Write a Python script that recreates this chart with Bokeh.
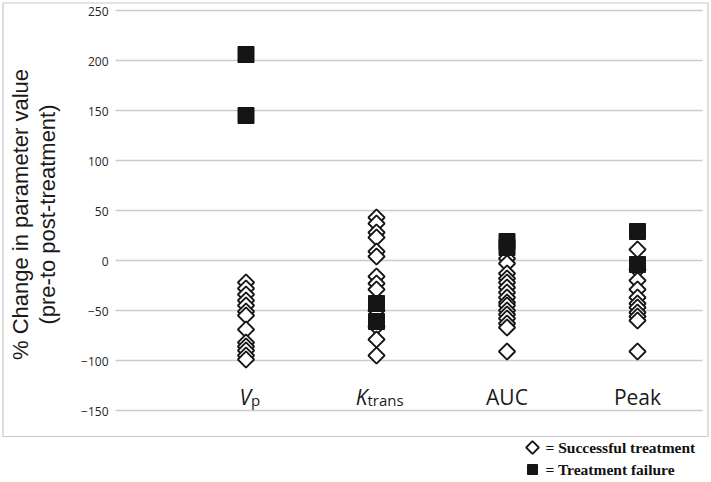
import numpy as np
from bokeh.plotting import figure
from bokeh.models import ColumnDataSource, Range1d
from bokeh.core.properties import value
from bokeh.embed import file_html
from bokeh.resources import INLINE

# ---------------- data ----------------
categories = ["Vp", "Ktrans", "AUC", "Peak"]
cat_main = ["V", "K", "AUC", "Peak"]
cat_sub = ["p", "trans", "", ""]

vp_success = [-22, -28, -34, -40, -45, -51, -55, -69, -82, -86, -90, -95, -99]
vp_failure = [206, 145]
ktrans_success = [43, 37, 28, 23, 9, 4, -16, -23, -29, -50, -66, -79, -95]
ktrans_failure = [-43, -61]
auc_success = [2, -3, -13, -18, -22, -27, -32, -37, -42, -45, -50, -54, -58, -63, -67, -91]
auc_failure = [19, 13]
peak_success = [11, -9, -20, -29, -37, -43, -47, -52, -56, -60, -91]
peak_failure = [29, -4]

y_ticks = [-150, -100, -50, 0, 50, 100, 150, 200, 250]
y_title = ["% Change in parameter value", "(pre-to post-treatment)"]
legend_labels = ["= Successful treatment", "= Treatment failure"]

# ---------------- layout helpers (pixel -> data) ----------------
W, H = 711, 482
X0_PX, DX_PX = 245.5, 130.5   # pixel column of first category, spacing between categories
Y0_PX = 260                   # pixel row of value 0 (1 px per unit)

def xpx(px):
    return 1 + (px - X0_PX) / DX_PX

def ypx(py):
    return Y0_PX - py

p = figure(width=W, height=H,
           x_range=Range1d(xpx(0), xpx(W)), y_range=Range1d(ypx(H), ypx(0)),
           output_backend="svg", toolbar_location=None,
           x_axis_location=None, y_axis_location=None,
           min_border=0, outline_line_color=None,
           background_fill_color="white", border_fill_color="white")
p.xgrid.visible = False
p.ygrid.visible = False

# outer light frame
p.quad(left=[xpx(2.5)], right=[xpx(707.5)], top=[ypx(2.5)], bottom=[ypx(436)],
       fill_color=None, line_color="#c8c8c8", line_width=1.2)

# horizontal grid lines
grid_left, grid_right = xpx(115), xpx(702)
p.segment(x0=[grid_left] * len(y_ticks), x1=[grid_right] * len(y_ticks),
          y0=y_ticks, y1=y_ticks, line_color="#cccccc", line_width=1.5)

# y tick labels
tick_text = [("\u2212" + str(-t)) if t < 0 else str(t) for t in y_ticks]
p.text(x=[grid_left] * len(y_ticks), y=y_ticks, text=tick_text,
       x_offset=-7, y_offset=1, text_align="right", text_baseline="middle",
       text_font=value("Open Sans"), text_font_size="12px", text_color="#262626")

# y title (two lines, rotated)
p.text(x=[xpx(20), xpx(47)], y=[46, 46], text=y_title, angle=np.pi / 2,
       text_align="center", text_baseline="middle",
       text_font=value("Liberation Sans"), text_font_size="22px", text_color="#1a1a1a")

# points
def collect(lists):
    xs, ys = [], []
    for i, vals in enumerate(lists):
        xs += [i + 1] * len(vals)
        ys += list(vals)
    return ColumnDataSource(dict(x=xs, y=ys))

succ_src = collect([vp_success, ktrans_success, auc_success, peak_success])
fail_src = collect([vp_failure, ktrans_failure, auc_failure, peak_failure])

succ_style = dict(marker="square", angle=np.pi / 4, fill_color="white",
                  line_color="#151515", line_width=1.8)
fail_style = dict(marker="square", fill_color="#151515", line_color="#151515", line_width=1)

p.scatter("x", "y", source=succ_src, size=11.5, **succ_style)
p.scatter("x", "y", source=fail_src, size=16, **fail_style)

# category labels
cat_x = [i + 1 for i in range(len(categories))]
plain = [i for i in range(len(categories)) if cat_sub[i] == ""]
subbed = [i for i in range(len(categories)) if cat_sub[i] != ""]
label_y = -136
sub_offsets = {0: 5, 1: -9}

p.text(x=[cat_x[i] for i in plain], y=[label_y] * len(plain), text=[cat_main[i] for i in plain],
       text_align="center", text_baseline="alphabetic",
       text_font=value("Open Sans"), text_font_size="21px", text_color="#1a1a1a")
sub_src = ColumnDataSource(dict(
    x=[cat_x[i] for i in subbed], y=[label_y] * len(subbed),
    main=[cat_main[i] for i in subbed], sub=[cat_sub[i] for i in subbed],
    off=[sub_offsets[i] for i in subbed]))
p.text(x="x", y="y", text="main", x_offset="off", source=sub_src,
       text_align="right", text_baseline="alphabetic", text_font_style="italic",
       text_font=value("Open Sans"), text_font_size="21px", text_color="#1a1a1a")
p.text(x="x", y="y", text="sub", x_offset="off", y_offset=3, source=sub_src,
       text_align="left", text_baseline="alphabetic",
       text_font=value("Open Sans"), text_font_size="15px", text_color="#1a1a1a")

# key below the frame
key_rows = [ypx(447), ypx(469)]
key_marker_x = xpx(532)
key_text_x = xpx(545)
p.scatter([key_marker_x], [key_rows[0]], size=9, **succ_style)
p.scatter([key_marker_x], [key_rows[1]], size=10, **fail_style)
p.text(x=[key_text_x] * 2, y=key_rows, text=legend_labels,
       text_align="left", text_baseline="middle",
       text_font=value("Liberation Serif"), text_font_style="bold",
       text_font_size="15.5px", text_color="#111111")

open("out.html", "w").write(file_html(p, INLINE))
